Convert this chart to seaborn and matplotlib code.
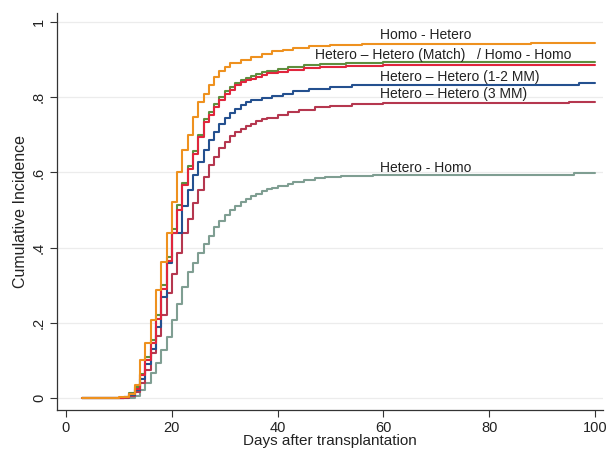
import matplotlib
matplotlib.use("Agg")
import matplotlib.pyplot as plt
import seaborn as sns
import pandas as pd

# ---- data (step change points) ----
days_homo_hetero = [3, 10, 12, 13, 14, 15, 16, 17, 18, 19, 20, 21, 22, 23, 24, 25, 26, 27, 28, 29, 30, 31, 33, 35, 37, 39, 41, 43, 46, 50, 56, 88, 100]
vals_homo_hetero = [0, 0.002, 0.01, 0.035, 0.10, 0.147, 0.207, 0.287, 0.362, 0.44, 0.522, 0.60, 0.66, 0.70, 0.748, 0.788, 0.81, 0.832, 0.855, 0.87, 0.881, 0.89, 0.899, 0.908, 0.915, 0.922, 0.927, 0.932, 0.936, 0.939, 0.941, 0.944, 0.944]

days_match = [3, 11, 12, 13, 14, 15, 16, 17, 18, 19, 20, 21, 22, 23, 24, 25, 26, 27, 28, 29, 30, 31, 32, 33, 34, 35, 36, 37, 38, 40, 42, 45, 48, 53, 60, 75, 100]
vals_match = [0, 0.003, 0.01, 0.025, 0.06, 0.10, 0.145, 0.21, 0.29, 0.365, 0.44, 0.50, 0.566, 0.61, 0.65, 0.695, 0.735, 0.753, 0.775, 0.793, 0.81, 0.82, 0.832, 0.84, 0.846, 0.85, 0.855, 0.86, 0.864, 0.868, 0.873, 0.877, 0.88, 0.883, 0.885, 0.887, 0.887]

days_homo_homo = [3, 11, 12, 13, 14, 15, 16, 17, 18, 19, 20, 21, 22, 23, 24, 25, 26, 27, 28, 29, 30, 31, 32, 33, 34, 35, 36, 37, 38, 40, 42, 45, 48, 53, 60, 100]
vals_homo_homo = [0, 0.003, 0.012, 0.03, 0.065, 0.11, 0.155, 0.22, 0.30, 0.375, 0.45, 0.513, 0.572, 0.618, 0.658, 0.70, 0.742, 0.76, 0.782, 0.80, 0.817, 0.827, 0.838, 0.846, 0.852, 0.857, 0.862, 0.867, 0.871, 0.876, 0.88, 0.885, 0.888, 0.891, 0.893, 0.894]

days_mm12 = [3, 11, 12, 13, 14, 15, 16, 17, 18, 19, 20, 22, 23, 24, 25, 26, 27, 28, 29, 30, 31, 32, 33, 34, 35, 37, 39, 41, 43, 46, 50, 54, 60, 97, 100]
vals_mm12 = [0, 0.002, 0.008, 0.02, 0.05, 0.09, 0.13, 0.19, 0.27, 0.36, 0.44, 0.51, 0.553, 0.593, 0.628, 0.66, 0.686, 0.708, 0.73, 0.744, 0.757, 0.77, 0.779, 0.788, 0.793, 0.798, 0.803, 0.81, 0.816, 0.822, 0.828, 0.832, 0.834, 0.838, 0.838]

days_mm3 = [3, 12, 13, 14, 15, 16, 17, 18, 19, 20, 21, 22, 23, 24, 25, 26, 27, 28, 29, 30, 31, 32, 33, 34, 35, 36, 37, 38, 40, 42, 44, 47, 50, 54, 60, 95, 100]
vals_mm3 = [0, 0.005, 0.015, 0.04, 0.075, 0.12, 0.165, 0.22, 0.28, 0.33, 0.385, 0.44, 0.475, 0.518, 0.553, 0.589, 0.62, 0.642, 0.664, 0.682, 0.697, 0.707, 0.715, 0.723, 0.73, 0.737, 0.742, 0.746, 0.752, 0.76, 0.766, 0.773, 0.778, 0.782, 0.784, 0.787, 0.787]

days_hetero_homo = [3, 13, 14, 15, 16, 17, 18, 19, 20, 21, 22, 23, 24, 25, 26, 27, 28, 29, 30, 31, 32, 33, 34, 35, 36, 37, 38, 39, 40, 42, 43, 45, 47, 49, 52, 58, 96, 100]
vals_hetero_homo = [0, 0.005, 0.02, 0.04, 0.066, 0.093, 0.128, 0.163, 0.207, 0.25, 0.296, 0.335, 0.36, 0.385, 0.41, 0.43, 0.455, 0.47, 0.487, 0.50, 0.51, 0.522, 0.53, 0.537, 0.544, 0.55, 0.556, 0.56, 0.565, 0.57, 0.575, 0.58, 0.584, 0.588, 0.591, 0.594, 0.598, 0.598]

series_names = ["Hetero - Homo", "Hetero – Hetero (3 MM)", "Hetero – Hetero (1-2 MM)",
                "Homo - Homo", "Hetero – Hetero (Match)", "Homo - Hetero"]
series_days = [days_hetero_homo, days_mm3, days_mm12, days_homo_homo, days_match, days_homo_hetero]
series_vals = [vals_hetero_homo, vals_mm3, vals_mm12, vals_homo_homo, vals_match, vals_homo_hetero]
colors = ["#7f9e92", "#b5374f", "#24508f", "#5e8e3e", "#e0263d", "#ee911f"]

x_ticks = [0, 20, 40, 60, 80, 100]
y_ticks = [0, 0.2, 0.4, 0.6, 0.8, 1.0]
y_tick_labels = ["0", ".2", ".4", ".6", ".8", "1"]

# ---- build long table ----
frames = []
for name, d, v in zip(series_names, series_days, series_vals):
    frames.append(pd.DataFrame({"day": d, "value": v, "series": name}))
df = pd.concat(frames, ignore_index=True)

sns.set_style("white")
plt.rcParams["font.family"] = ["Liberation Sans", "DejaVu Sans"]

fig = plt.figure(figsize=(6.09, 4.51), dpi=100)
ax = fig.add_axes([0.0936, 0.0909, 0.8964, 0.880])

for g in y_ticks:
    ax.axhline(g, color="#ececec", lw=0.9, zorder=0)

sns.lineplot(data=df, x="day", y="value", hue="series", hue_order=series_names,
             palette=dict(zip(series_names, colors)), drawstyle="steps-post",
             estimator=None, sort=False, lw=1.5, legend=False, ax=ax)

ax.set_xlim(-1.7, 101.5)
ax.set_ylim(-0.032, 1.024)
ax.set_xticks(x_ticks)
ax.set_xticklabels([str(t) for t in x_ticks])
ax.set_yticks(y_ticks)
ax.set_yticklabels(y_tick_labels, rotation=90, va="center")
ax.tick_params(axis="both", which="major", bottom=True, left=True, direction="out",
               length=5, width=0.8, color="#333333",
               labelsize=10.5, labelcolor="#222222", pad=3)
for side in ["top", "right"]:
    ax.spines[side].set_visible(False)
for side in ["left", "bottom"]:
    ax.spines[side].set_color("#333333")
    ax.spines[side].set_linewidth(0.9)

ax.set_xlabel("Days after transplantation", fontsize=11, color="#222222", labelpad=-1)
ax.set_ylabel("Cumulative Incidence", fontsize=11.5, color="#222222", labelpad=3)

txt = dict(fontsize=10, color="#222222", ha="left", va="center")
ax.text(59.3, 0.965, "Homo - Hetero", **txt)
ax.text(47.0, 0.913, "Hetero – Hetero (Match)   / Homo - Homo", **txt)
ax.text(59.3, 0.855, "Hetero – Hetero (1-2 MM)", **txt)
ax.text(59.3, 0.809, "Hetero – Hetero (3 MM)", **txt)
ax.text(59.3, 0.611, "Hetero - Homo", **txt)

fig.savefig("out.png", dpi=100)
